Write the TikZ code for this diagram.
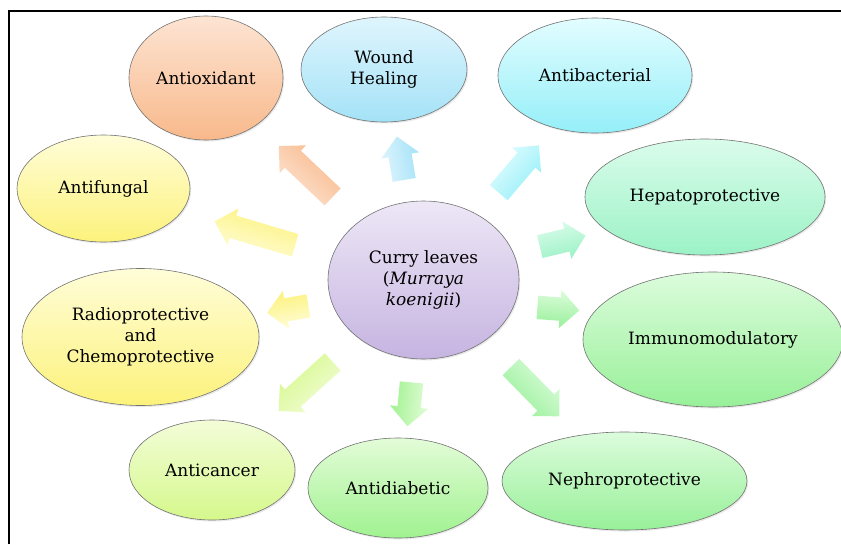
\documentclass[tikz,border=0pt]{standalone}
\usepackage{fontspec}
\setmainfont{DejaVu Serif}
\usepackage{xcolor}
\usetikzlibrary{shapes.geometric, shapes.arrows, shadows}

% colours, light (top) and dark (bottom)
\definecolor{oxTop}{HTML}{FDE4D3}   \definecolor{oxBot}{HTML}{F8B98B}
\definecolor{woTop}{HTML}{DFF5FD}   \definecolor{woBot}{HTML}{A4E2F7}
\definecolor{baTop}{HTML}{E2FDFF}   \definecolor{baBot}{HTML}{95EFF8}
\definecolor{heTop}{HTML}{DAFCEB}   \definecolor{heBot}{HTML}{9CF2C6}
\definecolor{imTop}{HTML}{DCFCDC}   \definecolor{imBot}{HTML}{98F099}
\definecolor{diTop}{HTML}{E3FCD8}   \definecolor{diBot}{HTML}{A0F290}
\definecolor{caTop}{HTML}{F3FDD8}   \definecolor{caBot}{HTML}{D5F88C}
\definecolor{yeTop}{HTML}{FFFDD8}   \definecolor{yeBot}{HTML}{FCF27C}
\definecolor{cuTop}{HTML}{EDE7F6}   \definecolor{cuBot}{HTML}{C6B4E1}

\tikzset{
  benefit/.style 2 args={ellipse, draw=black!55, line width=0.6pt,
    top color=#1, bottom color=#2, inner sep=0pt, align=center,
    drop shadow={shadow xshift=1.2pt, shadow yshift=-1.5pt, opacity=0.18}},
  blockarrow/.style n args={3}{single arrow, draw=none,
    inner xsep=0pt, inner ysep=11.5pt, single arrow head extend=7.5pt,
    rotate=#3, top color=#1, bottom color=#2, shading angle=#3},
}

\begin{document}
\begin{tikzpicture}[x=1pt, y=-1pt, font=\fontsize{17}{21}\selectfont]
  \useasboundingbox (0,0) rectangle (841,544);
  % frame
  \draw[line width=2.4pt] (9,544) -- (9,11) -- (841,11);

  % --- centre ---
  \node[benefit={cuTop}{cuBot}, minimum width=191pt, minimum height=158pt] (curry) at (423.5,280)
    {Curry leaves\\(\textit{Murraya}\\\textit{koenigii})};

  % --- activities ---
  \node[benefit={oxTop}{oxBot}, minimum width=154pt, minimum height=124pt] (antiox) at (206,78) {Antioxidant};
  \node[benefit={woTop}{woBot}, minimum width=166pt, minimum height=105pt] (wound) at (384,69.5) {Wound\\Healing};
  \node[benefit={baTop}{baBot}, minimum width=194pt, minimum height=115pt] (antibac) at (595,75.5) {Antibacterial};
  \node[benefit={heTop}{heBot}, minimum width=240pt, minimum height=116pt] (hepato) at (705,197) {Hepatoprotective};
  \node[benefit={imTop}{imBot}, minimum width=260pt, minimum height=135pt] (immuno) at (713,339.5) {Immunomodulatory};
  \node[benefit={imTop}{imBot}, minimum width=245pt, minimum height=98pt] (nephro) at (624.5,481) {Nephroprotective};
  \node[benefit={diTop}{diBot}, minimum width=180pt, minimum height=100pt] (antidiab) at (398,488) {Antidiabetic};
  \node[benefit={caTop}{caBot}, minimum width=166pt, minimum height=100pt] (anticancer) at (212,470) {Anticancer};
  \node[benefit={yeTop}{yeBot}, minimum width=237pt, minimum height=137pt] (radio) at (140.5,337) {Radioprotective\\and\\Chemoprotective};
  \node[benefit={yeTop}{yeBot}, minimum width=173pt, minimum height=107pt] (antifungal) at (103.5,188.5) {Antifungal};

  % --- block arrows ---
  \node[blockarrow={oxTop}{oxBot}{136.6}, minimum height=74pt] (a-antiox) at (310,175.5) {};
  \node[blockarrow={woTop}{woBot}{99.5}, minimum height=44pt] (a-wound) at (401.5,164) {};
  \node[blockarrow={baTop}{baBot}{49.6}, minimum height=62pt] (a-antibac) at (515,173.5) {};
  \node[blockarrow={heTop}{heBot}{13.4}, minimum height=47pt] (a-hepato) at (557,242.5) {};
  \node[blockarrow={imTop}{imBot}{-4.2}, minimum height=42pt] (a-immuno) at (552.5,308.5) {};
  \node[blockarrow={imTop}{imBot}{-45.6}, minimum height=69pt] (a-nephro) at (531,387.5) {};
  \node[blockarrow={diTop}{diBot}{264.7}, minimum height=44pt] (a-antidiab) at (410,398.5) {};
  \node[blockarrow={caTop}{caBot}{222.2}, minimum height=73pt] (a-anticancer) at (310,382.5) {};
  \node[blockarrow={yeTop}{yeBot}{189.7}, minimum height=42pt] (a-radio) at (293.5,308.5) {};
  \node[blockarrow={yeTop}{yeBot}{163.5}, minimum height=84pt] (a-antifungal) at (260.5,235) {};
\end{tikzpicture}
\end{document}
